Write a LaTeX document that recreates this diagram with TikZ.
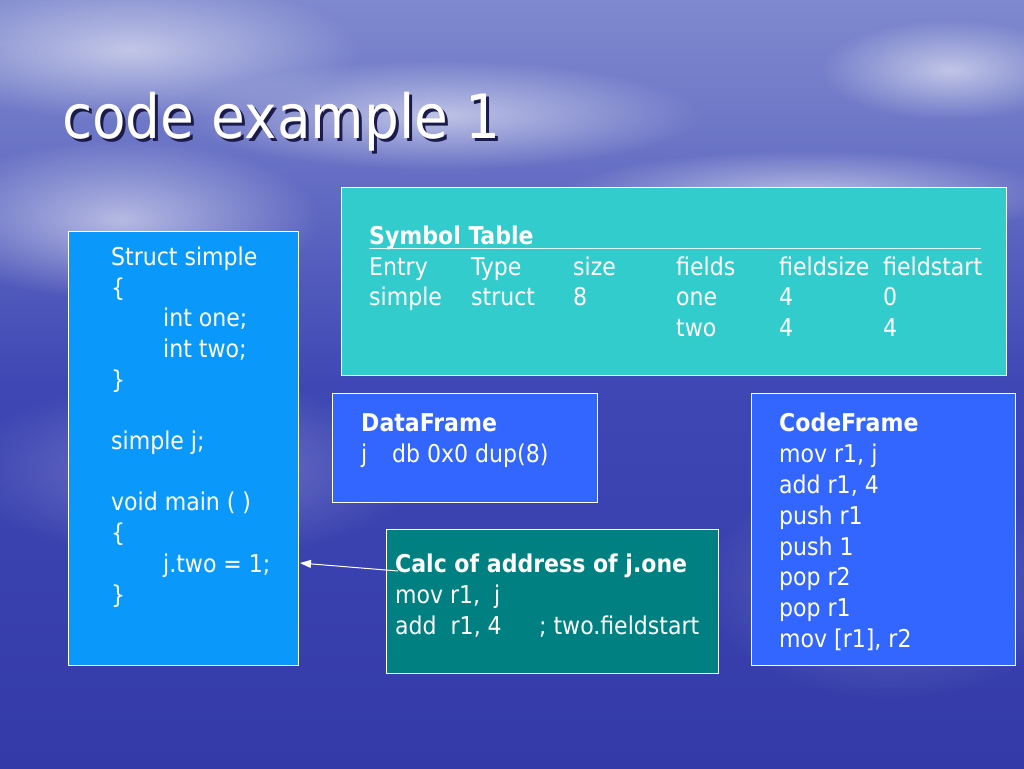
\documentclass[tikz,border=0pt]{standalone}
\usepackage{fontspec}
\setmainfont{DejaVu Sans Condensed}
\usetikzlibrary{arrows.meta,fadings,calc}
\definecolor{skytop}{HTML}{4C54B8}
\definecolor{skylight}{HTML}{7F89CE}
\definecolor{seatop}{HTML}{3E47B4}
\definecolor{seabot}{HTML}{2A2F9E}
\definecolor{azure}{HTML}{0A99FA}
\definecolor{tealL}{HTML}{33CCCC}
\definecolor{royal}{HTML}{3366FF}
\definecolor{tealD}{HTML}{008080}
\definecolor{shadowc}{HTML}{1A1B4A}
\pgfdeclareverticalshading{bg}{100bp}{color(0bp)=(seabot); color(50bp)=(seatop); color(66bp)=(skylight!70!seatop); color(75bp)=(skylight); color(100bp)=(skytop)}
\tikzfading[name=softblob, inner color=transparent!45, outer color=transparent!100]
\begin{document}
\begin{tikzpicture}[x=1pt,y=-1pt,
  box/.style={draw=white, line width=1.2pt, inner sep=0pt, anchor=north west},
  txt/.style={anchor=base west, inner sep=0pt, text=white, font=\fontsize{24.5}{30}\selectfont},
  btxt/.style={txt, font=\fontsize{24.5}{30}\selectfont\bfseries},
  cloud/.style={fill=white, path fading=softblob},
  arr/.style={draw=white, line width=1pt, -{Triangle[length=11pt,width=8pt]}}]
\useasboundingbox (0,0) rectangle (1024,768);
\shade[shading=bg] (0,0) rectangle (1024,768);
% soft clouds
\fill[cloud] (-100,-20) rectangle (360,120);
\fill[cloud] (180,60) rectangle (700,170);
\fill[cloud] (-80,140) rectangle (320,300);
\fill[cloud] (560,150) rectangle (1060,240);
\fill[cloud] (820,20) rectangle (1080,120);
\fill[cloud, opacity=0.5] (-40,380) rectangle (420,560);
\fill[cloud, opacity=0.4] (700,470) rectangle (1080,700);
% title
\node[anchor=base west, inner sep=0pt, text=shadowc, font=\fontsize{61}{64}\selectfont] (titleshadow) at (65,141) {code example 1};
\node[anchor=base west, inner sep=0pt, text=white, font=\fontsize{61}{64}\selectfont] (title) at (62,138) {code example 1};
% boxes
\node[box, fill=azure, minimum width=230pt, minimum height=434pt] (leftbox) at (68,231) {};
\node[box, fill=tealL, minimum width=665pt, minimum height=188pt] (symbox) at (341,187) {};
\node[box, fill=royal, minimum width=265pt, minimum height=109pt] (databox) at (332,393) {};
\node[box, fill=royal, minimum width=264pt, minimum height=272pt] (codebox) at (751,393) {};
\node[box, fill=tealD, minimum width=332pt, minimum height=144pt] (calcbox) at (386,529) {};
% left box text
\node[txt] (l1) at (111,265) {Struct simple};
\node[txt] (l2) at (111,296) {\{};
\node[txt] (l3) at (163,326) {int one;};
\node[txt] (l4) at (163,357) {int two;};
\node[txt] (l5) at (111,388) {\}};
\node[txt] (l6) at (111,449) {simple j;};
\node[txt] (l7) at (111,510) {void main ( )};
\node[txt] (l8) at (111,541) {\{};
\node[txt] (l9) at (163,572) {j.two = 1;};
\node[txt] (l10) at (111,603) {\}};
% symbol table
\node[btxt] (s0) at (369,244) {Symbol Table};
\draw[white!85!tealL, line width=0.9pt] (369,248) -- (981,248);
\node[txt] (s1) at (369,275) {\makebox[102pt][l]{Entry}\makebox[102pt][l]{Type}\makebox[103pt][l]{size}\makebox[103pt][l]{fields}\makebox[104pt][l]{fieldsize}fieldstart};
\node[txt] (s2) at (369,305) {\makebox[102pt][l]{simple}\makebox[102pt][l]{struct}\makebox[103pt][l]{8}\makebox[103pt][l]{one}\makebox[104pt][l]{4}0};
\node[txt] (s3) at (676,336) {\makebox[103pt][l]{two}\makebox[104pt][l]{4}4};
% dataframe
\node[btxt] (d0) at (361,431) {DataFrame};
\node[txt] (d1) at (361,462) {\makebox[31pt][l]{j}db 0x0 dup(8)};
% codeframe
\node[btxt] (c0) at (779,431) {CodeFrame};
\node[txt] (c1) at (779,462) {mov r1, j};
\node[txt] (c2) at (779,493) {add r1, 4};
\node[txt] (c3) at (779,524) {push r1};
\node[txt] (c4) at (779,555) {push 1};
\node[txt] (c5) at (779,585) {pop r2};
\node[txt] (c6) at (779,616) {pop r1};
\node[txt] (c7) at (779,647) {mov [r1], r2};
% calc box
\node[btxt] (k0) at (395,572) {Calc of address of j.one};
\node[txt] (k1) at (395,603) {mov r1,\ \ j};
\node[txt] (k2) at (395,634) {\makebox[144pt][l]{add\ \ r1, 4}; two.fieldstart};
% arrow
\coordinate (arrowend) at (300,563);
\draw[arr] ($(k0.base west)+(3,-1)$) -- (arrowend);
\end{tikzpicture}
\end{document}
